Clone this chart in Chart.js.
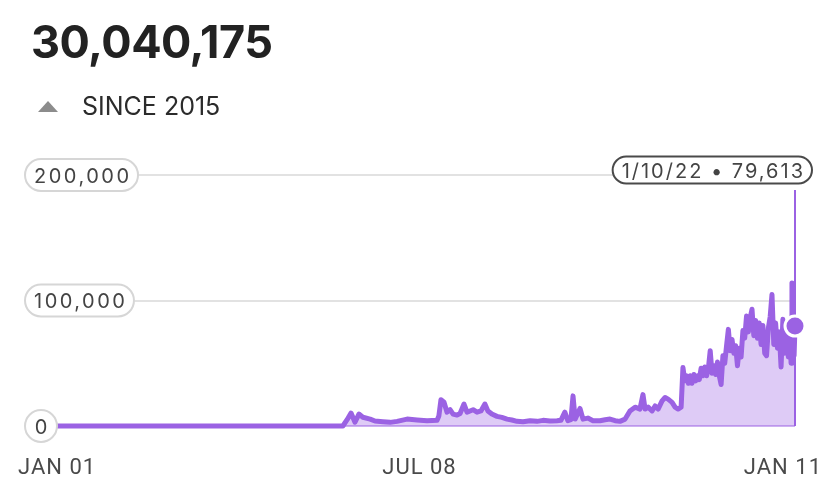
<!DOCTYPE html>
<html>
<head>
<meta charset="utf-8">
<style>
body{margin:0;background:#fff;}
#wrap{position:relative;width:828px;height:502px;overflow:hidden;font-family:Inter,sans-serif;}
#chartBox{position:absolute;left:0;top:0;width:828px;height:502px;}
#total{position:absolute;left:31px;top:19px;font-size:45px;line-height:45px;font-weight:700;letter-spacing:-0.5px;color:#222;}
#since{position:absolute;left:82px;top:94px;font-size:25px;line-height:25px;color:#2b2b2b;}
#tri{position:absolute;left:38px;top:101px;width:0;height:0;border-left:10px solid transparent;border-right:10px solid transparent;border-bottom:11px solid #8c8c8c;}
</style>
</head>
<body>
<div id="wrap">
<div id="chartBox"><canvas id="myChart"></canvas></div>
<div id="total">30,040,175</div>
<div id="tri"></div>
<div id="since">SINCE 2015</div>
</div>

<script src="https://cdn.jsdelivr.net/npm/chart.js"></script>
<script>
// readings (daily counts)
var dates = [
	'2015-01-01','2017-12-09','2017-12-23',
	'2018-01-05','2018-01-18','2018-01-31','2018-02-13','2018-03-09','2018-03-25','2018-04-20','2018-05-14','2018-06-06','2018-07-09','2018-08-11','2018-09-13','2018-10-16','2018-10-22','2018-10-29','2018-11-08','2018-11-18','2018-11-28','2018-12-08','2018-12-21','2018-12-31',
	'2019-01-13','2019-01-23','2019-02-02','2019-02-12','2019-02-25','2019-03-10','2019-03-23','2019-04-02','2019-04-15','2019-05-02','2019-05-18','2019-06-04','2019-06-20','2019-07-07','2019-07-27','2019-08-19','2019-09-11','2019-10-01','2019-10-24','2019-11-16','2019-11-29','2019-12-12','2019-12-22',
	'2020-01-01','2020-01-08','2020-01-15','2020-01-31','2020-02-10','2020-02-26','2020-03-14','2020-04-06','2020-04-23','2020-05-09','2020-05-26','2020-06-11','2020-06-28','2020-07-14','2020-07-31','2020-08-16','2020-08-26','2020-09-02','2020-09-12','2020-09-25','2020-10-05','2020-10-15','2020-10-28','2020-11-07','2020-11-17','2020-11-30','2020-12-10','2020-12-20','2020-12-30',
	'2021-01-05','2021-01-11','2021-01-17','2021-01-23','2021-01-29','2021-02-04','2021-02-10','2021-02-16','2021-02-22','2021-02-28',
	'2021-03-06','2021-03-12','2021-03-18','2021-03-24','2021-03-30','2021-04-05','2021-04-11','2021-04-17','2021-04-23','2021-04-29',
	'2021-05-05','2021-05-11','2021-05-17','2021-05-23','2021-05-29','2021-06-04','2021-06-10','2021-06-16','2021-06-22','2021-06-28',
	'2021-07-04','2021-07-10','2021-07-16','2021-07-22','2021-07-28','2021-08-03','2021-08-09','2021-08-15','2021-08-21','2021-08-27',
	'2021-09-02','2021-09-08','2021-09-14','2021-09-20','2021-09-26','2021-10-02','2021-10-08','2021-10-14','2021-10-20','2021-10-26',
	'2021-11-01','2021-11-07','2021-11-13','2021-11-19','2021-11-25','2021-12-01','2021-12-07','2021-12-13','2021-12-19','2021-12-25',
	'2021-12-28','2021-12-31','2022-01-03','2022-01-07','2022-01-10'
];
var values = [
	0,0,5000,
	10300,3000,9500,7000,5500,4000,3400,2900,3700,5500,4800,4200,4500,8000,21000,19000,11000,13000,9500,8700,10000,
	17500,11000,12000,13000,11000,12000,17500,12000,9500,7700,6900,5500,4800,3700,3400,4200,3700,4500,4000,4200,4500,11000,4200,
	5000,24000,5500,14000,5500,6300,4200,4200,5000,5500,4200,3700,5500,12000,15000,13500,25000,13500,15000,12000,16000,13500,20000,22700,21400,18800,15000,13500,15000,
	46600,36000,40000,34000,40000,34000,41000,36000,40000,37000,
	46000,40000,47000,40000,46000,60000,42000,48000,41000,51000,
	40000,33000,56000,50000,64000,77000,60000,69000,58000,64000,
	48000,62000,55000,76000,70000,87600,75000,86000,93000,72000,
	84000,70000,82000,65000,80000,58000,56000,78000,87000,104800,
	65000,82000,62000,75000,47000,85000,58000,80000,55000,76000,
	50000,114000,70000,56000,79613
];
var yTicks = [0, 100000, 200000];
var xTickLabels = ['JAN 01', 'JUL 08', 'JAN 11'];

var lineColor = '#9b62e3';
var fillColor = 'rgba(155, 98, 227, 0.33)';
var labelFont = '20px Inter';

function dayIndex(s){
	var p = s.split('-');
	return (Date.UTC(+p[0], p[1]-1, +p[2]) - Date.UTC(2015, 0, 1)) / 86400000;
}

var points = [];
for(var i = 0; i < dates.length; i++){
	points.push({x: dayIndex(dates[i]), y: values[i]});
}
var last = points[points.length-1];

function tooltipText(){
	var p = dates[dates.length-1].split('-');
	return (+p[1]) + '/' + (+p[2]) + '/' + p[0].slice(2) + ' \u2022 ' + values[values.length-1].toLocaleString('en-US');
}

function pill(ctx, left, yc, text, border, minW, h, spacing){
	ctx.letterSpacing = spacing + 'px';
	var tw = ctx.measureText(text).width - spacing;
	var w = Math.max(tw + 18, minW);
	var r = h / 2;
	ctx.beginPath();
	ctx.moveTo(left + r, yc - r);
	ctx.lineTo(left + w - r, yc - r);
	ctx.arc(left + w - r, yc, r, -Math.PI/2, Math.PI/2);
	ctx.lineTo(left + r, yc + r);
	ctx.arc(left + r, yc, r, Math.PI/2, Math.PI*1.5);
	ctx.closePath();
	ctx.fillStyle = '#fff';
	ctx.fill();
	ctx.lineWidth = 2;
	ctx.strokeStyle = border;
	ctx.stroke();
	ctx.fillStyle = '#444';
	ctx.textAlign = 'left';
	ctx.textBaseline = 'alphabetic';
	ctx.fillText(text, left + (w - tw) / 2, yc + 7.5);
	return w;
}

var decor = {
	id: 'decor',
	beforeDatasetsDraw(chart){
		var ctx = chart.ctx, a = chart.chartArea, x = chart.scales.x, y = chart.scales.y;
		ctx.save();
		ctx.lineWidth = 2;
		for(var v of yTicks){
			var py = Math.round(y.getPixelForValue(v));
			ctx.strokeStyle = v === 0 ? 'rgba(155, 98, 227, 0.5)' : '#e2e2e2';
			ctx.beginPath();
			ctx.moveTo(a.left, py);
			ctx.lineTo(a.right, py);
			ctx.stroke();
		}
		// crosshair at the latest reading
		var px = x.getPixelForValue(last.x);
		ctx.strokeStyle = lineColor;
		ctx.beginPath();
		ctx.moveTo(px, y.getPixelForValue(yTicks[2]) + 15);
		ctx.lineTo(px, a.bottom);
		ctx.stroke();
		ctx.restore();
	},
	afterDraw(chart){
		var ctx = chart.ctx, a = chart.chartArea, x = chart.scales.x, y = chart.scales.y;
		ctx.save();
		ctx.font = labelFont;
		for(var v of yTicks){
			pill(ctx, 25, y.getPixelForValue(v), v.toLocaleString('en-US'), '#d6d6d6', 32, 32, 2.5);
		}
		// tooltip pill, right edge just past the crosshair
		var px = x.getPixelForValue(last.x);
		var txt = tooltipText();
		ctx.letterSpacing = '2px';
		var w = ctx.measureText(txt).width - 2 + 18;
		pill(ctx, px + 17 - w, y.getPixelForValue(yTicks[2]) - 5, txt, '#4a4a4a', 32, 27, 2);

		// x axis labels
		ctx.font = '22px Roboto';
		ctx.letterSpacing = '1px';
		ctx.fillStyle = '#4a4a4a';
		ctx.textBaseline = 'alphabetic';
		var left = 18, right = chart.width - 7;
		var by = a.bottom + 48;
		ctx.textAlign = 'left';
		ctx.fillText(xTickLabels[0], left, by);
		ctx.textAlign = 'center';
		ctx.fillText(xTickLabels[1], (left + right) / 2, by);
		ctx.textAlign = 'right';
		ctx.fillText(xTickLabels[2], right + 1, by);
		ctx.restore();
	}
};

var ctx = document.getElementById('myChart').getContext('2d');
var myChart = new Chart(ctx, {
	type: 'line',
	data: {
		datasets: [{
			data: points,
			borderColor: lineColor,
			backgroundColor: fillColor,
			borderWidth: 5,
			borderJoinStyle: 'round',
			fill: 'origin',
			pointRadius: 0,
			tension: 0,
			clip: {left: 0, top: false, right: false, bottom: 5},
			order: 1
		}, {
			data: [last],
			pointRadius: 10,
			pointBackgroundColor: lineColor,
			pointBorderColor: '#fff',
			pointBorderWidth: 3,
			showLine: false,
			clip: false,
			order: 0
		}]
	},
	options: {
		animation: false,
		responsive: true,
		maintainAspectRatio: false,
		events: [],
		layout: {padding: {left: 27, right: 33, top: 175, bottom: 76}},
		plugins: {legend: {display: false}, tooltip: {enabled: false}},
		scales: {
			x: {type: 'linear', min: 30, max: last.x, display: false},
			y: {min: 0, max: 200000, display: false}
		}
	},
	plugins: [decor]
});
</script>
</body>
</html>
